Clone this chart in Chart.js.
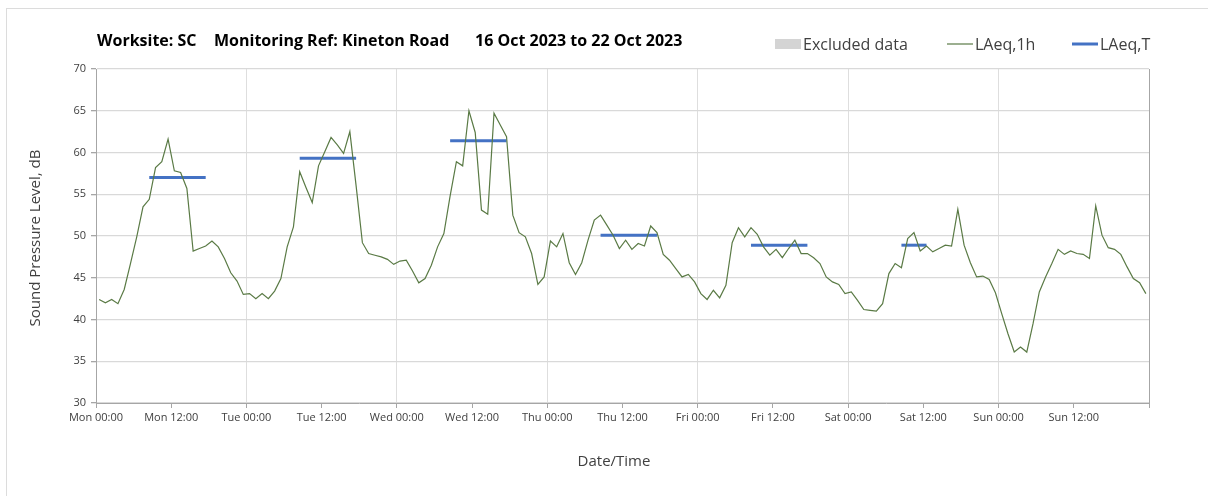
<!DOCTYPE html>
<html>
<head>
<meta charset="utf-8">
<title>Kineton Road noise monitoring</title>
<script src="https://cdn.jsdelivr.net/npm/chart.js@4/dist/chart.umd.min.js"></script>
<style>
  html, body { margin: 0; padding: 0; background: #ffffff; overflow: hidden; }
  #wrap { position: relative; width: 1208px; height: 496px; }
  #frame { position: absolute; left: 6px; top: 8px; width: 1220px; height: 520px;
           border-top: 1px solid #dcdcdc; border-left: 1px solid #dcdcdc; box-sizing: border-box; }
  canvas { position: absolute; left: 0; top: 0; }
</style>
</head>
<body>
<div id="wrap">
  <div id="frame"></div>
  <canvas id="chart" width="1208" height="496"></canvas>
</div>
<script>
// Axis tick labels, one every 12 hours starting Monday 00:00
const tickLabels = ['Mon 00:00', 'Mon 12:00', 'Tue 00:00', 'Tue 12:00', 'Wed 00:00', 'Wed 12:00',
  'Thu 00:00', 'Thu 12:00', 'Fri 00:00', 'Fri 12:00', 'Sat 00:00', 'Sat 12:00', 'Sun 00:00', 'Sun 12:00'];

// Hourly LAeq,1h values (dB), one array per day, each value plotted at the middle of its hour
const monLevels = [42.4, 42.0, 42.4, 41.9, 43.6, 46.7, 49.9, 53.5, 54.4, 58.2, 58.9, 61.6,
  57.8, 57.6, 55.7, 48.2, 48.5, 48.8, 49.4, 48.7, 47.3, 45.6, 44.6, 43.0];
const tueLevels = [43.1, 42.5, 43.1, 42.5, 43.4, 44.9, 48.7, 51.1, 57.7, 55.8, 54.0, 58.4,
  60.1, 61.8, 60.9, 59.9, 62.5, 56.0, 49.2, 47.9, 47.7, 47.5, 47.2, 46.6];
const wedLevels = [47.0, 47.1, 45.8, 44.4, 44.9, 46.5, 48.7, 50.3, 54.8, 58.9, 58.4, 65.0,
  62.4, 53.1, 52.6, 64.7, 63.3, 61.9, 52.5, 50.4, 49.9, 47.9, 44.2, 45.1];
const thuLevels = [49.4, 48.7, 50.3, 46.8, 45.4, 46.8, 49.5, 51.9, 52.5, 51.3, 50.1, 48.5,
  49.5, 48.4, 49.1, 48.8, 51.2, 50.4, 47.8, 47.1, 46.1, 45.1, 45.4, 44.5];
const friLevels = [43.1, 42.4, 43.5, 42.6, 44.1, 49.2, 51.0, 49.9, 51.0, 50.2, 48.7, 47.7,
  48.4, 47.4, 48.5, 49.5, 47.9, 47.9, 47.4, 46.7, 45.1, 44.5, 44.2, 43.1];
const satLevels = [43.3, 42.3, 41.2, 41.1, 41.0, 41.9, 45.5, 46.7, 46.2, 49.7, 50.4, 48.2,
  48.8, 48.1, 48.5, 48.9, 48.8, 53.2, 48.9, 46.8, 45.1, 45.2, 44.8, 43.2];
const sunLevels = [40.7, 38.3, 36.1, 36.7, 36.1, 39.5, 43.3, 45.1, 46.7, 48.4, 47.8, 48.2,
  47.9, 47.8, 47.3, 53.6, 50.1, 48.6, 48.4, 47.8, 46.3, 44.9, 44.4, 43.1];

// LAeq,T over each working period: start / end (hours from Monday 00:00) and level (dB)
const periodStart = [8.5, 32.5, 56.5, 80.5, 104.5, 128.5];
const periodEnd = [17.5, 41.5, 65.5, 89.5, 113.5, 132.5];
const periodLevel = [57.0, 59.3, 61.4, 50.1, 48.9, 48.9];

const hourly = [].concat(monLevels, tueLevels, wedLevels, thuLevels, friLevels, satLevels, sunLevels);
const hourlyPoints = hourly.map((v, i) => ({ x: i + 0.5, y: v }));

const GREEN = '#5a7a45';
const BLUE = '#4472c4';
const EXCLUDED = '#d4d4d4';
const FONT = '"Open Sans", Lato, sans-serif';

const datasets = [
  { label: 'Excluded data', legendKind: 'box', data: [], backgroundColor: EXCLUDED, borderColor: EXCLUDED,
    borderWidth: 0, pointRadius: 0 },
  { label: 'LAeq,1h', legendKind: 'line', data: hourlyPoints, borderColor: GREEN, backgroundColor: GREEN,
    borderWidth: 1.2, pointRadius: 0, tension: 0 }
];
periodLevel.forEach((lvl, k) => {
  datasets.push({
    label: 'LAeq,T', legendKind: k === 0 ? 'thick' : null,
    data: [{ x: periodStart[k], y: lvl }, { x: periodEnd[k], y: lvl }],
    borderColor: BLUE, backgroundColor: BLUE, borderWidth: 3, pointRadius: 0
  });
});

// Header text, legend and axis titles drawn onto the canvas
const decorations = {
  id: 'decorations',
  afterDraw(chart) {
    const ctx = chart.ctx;
    ctx.save();
    ctx.textBaseline = 'middle';

    // Header
    ctx.fillStyle = '#000000';
    ctx.font = 'bold 16px ' + FONT;
    ctx.textAlign = 'left';
    const header = [['Worksite: SC', 97], ['Monitoring Ref: Kineton Road', 214], ['16 Oct 2023 to 22 Oct 2023', 475]];
    header.forEach(([t, x]) => ctx.fillText(t, x, 41));

    // Legend
    const legendX = [775, 947, 1072];
    let slot = 0;
    ctx.font = '16px ' + FONT;
    chart.data.datasets.forEach(ds => {
      if (!ds.legendKind) return;
      const x = legendX[slot++];
      const y = 44;
      if (ds.legendKind === 'box') {
        ctx.fillStyle = ds.backgroundColor;
        ctx.fillRect(x, y - 5, 26, 10);
      } else {
        ctx.strokeStyle = ds.borderColor;
        ctx.lineWidth = ds.legendKind === 'thick' ? 3 : 1.2;
        ctx.beginPath();
        ctx.moveTo(x, y);
        ctx.lineTo(x + 26, y);
        ctx.stroke();
      }
      ctx.fillStyle = '#404040';
      ctx.fillText(ds.label, x + 28, y + 1);
    });

    // Axis titles
    ctx.fillStyle = '#404040';
    ctx.font = '15px ' + FONT;
    ctx.textAlign = 'center';
    ctx.fillText('Date/Time', 614, 462);
    ctx.translate(36, 238);
    ctx.rotate(-Math.PI / 2);
    ctx.fillText('Sound Pressure Level, dB', 0, 0);
    ctx.restore();
  }
};

new Chart(document.getElementById('chart'), {
  type: 'line',
  data: { datasets },
  plugins: [decorations],
  options: {
    responsive: false,
    animation: false,
    events: [],
    layout: { padding: { top: 69, right: 59, left: 0, bottom: 0 } },
    plugins: { legend: { display: false }, title: { display: false }, tooltip: { enabled: false } },
    scales: {
      x: {
        type: 'linear',
        min: 0,
        max: 168,
        afterBuildTicks: s => { s.ticks = Array.from({ length: 15 }, (_, k) => ({ value: k * 12 })); },
        afterFit: s => { s.height = 93; },
        ticks: {
          autoSkip: false, maxRotation: 0, minRotation: 0, padding: 3,
          color: '#404040', font: { family: FONT, size: 11 },
          callback: v => tickLabels[v / 12] || ''
        },
        grid: {
          tickLength: 5,
          color: c => {
            const v = c.tick ? c.tick.value : 0;
            if (v === 168) return '#a6a6a6';
            return v % 24 === 0 ? '#dedede' : 'rgba(0,0,0,0)';
          },
          tickColor: '#a6a6a6',
          lineWidth: 1
        },
        border: { color: '#a6a6a6', width: 1 }
      },
      y: {
        min: 30,
        max: 70,
        afterFit: s => { s.width = 96; },
        ticks: {
          stepSize: 5, padding: 5,
          color: '#404040', font: { family: FONT, size: 11 }
        },
        grid: { color: '#d9d9d9', tickColor: '#a6a6a6', tickLength: 5, lineWidth: 1.3 },
        border: { color: '#a6a6a6', width: 1 }
      }
    }
  }
});
</script>
</body>
</html>
